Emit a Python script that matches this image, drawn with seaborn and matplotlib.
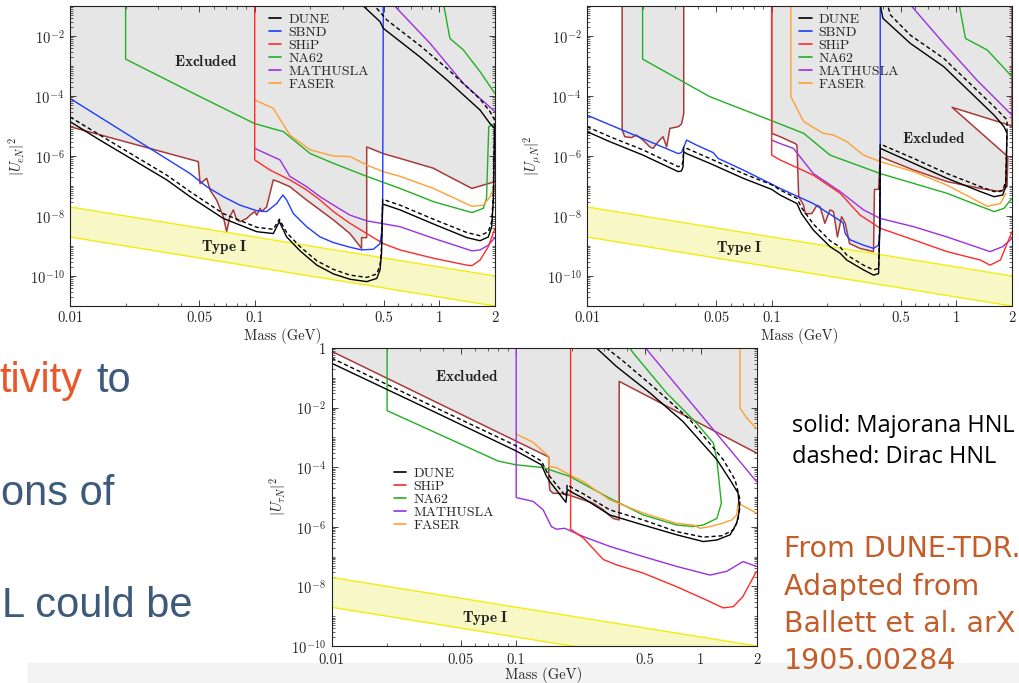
import numpy as np
import matplotlib
matplotlib.use("Agg")
import matplotlib.pyplot as plt
import seaborn as sns
from matplotlib.lines import Line2D
from matplotlib.patches import Rectangle
from matplotlib.ticker import FixedLocator, FixedFormatter, LogLocator, NullFormatter

# ---- data: (mass GeV, |U|^2) pairs ----
BAND_M = [0.01, 2.0]
BAND_HI = [2e-8, 1e-10]
BAND_LO = [2e-9, 1e-11]

XTICKS = [0.01, 0.05, 0.1, 0.5, 1, 2]
XTICK_LABELS = ["0.01", "0.05", "0.1", "0.5", "1", "2"]

# electron panel
e_excl = [(0.01, 9.5e-6), (0.0495, 6.5e-7), (0.0506, 1.2e-7), (0.055, 1.8e-7), (0.0573, 7.4e-8),
          (0.0622, 3.4e-8), (0.0676, 9.5e-9), (0.0705, 3.0e-9), (0.0734, 9.5e-9), (0.0766, 1.6e-8),
          (0.0799, 7.4e-9), (0.0833, 6.5e-9), (0.0905, 8.3e-9), (0.0944, 1.07e-8), (0.1, 1.4e-8),
          (0.1026, 1.07e-8), (0.107, 1.8e-8), (0.109, 1.4e-8), (0.116, 2.0e-8), (0.121, 5.7e-8),
          (0.126, 1.6e-7), (0.134, 1.4e-7), (0.155, 9.5e-8), (0.191, 3.4e-8), (0.267, 7.4e-9),
          (0.328, 2.6e-9), (0.379, 8.3e-10), (0.379, 1.9e-9), (0.404, 1.9e-9), (0.404, 2.0e-6),
          (0.497, 1.2e-6), (0.612, 8.3e-7), (0.929, 3.9e-7), (1.05, 2.6e-7), (1.50, 8.3e-8), (2.0, 1.4e-7)]
e_dune_maj = [(0.01, 1.4e-5), (0.0145, 3.4e-6), (0.022, 7.4e-7), (0.0334, 1.6e-7), (0.0447, 4.4e-8),
              (0.0676, 8.3e-9), (0.1026, 3.0e-9), (0.126, 2.6e-9), (0.136, 6.5e-9), (0.149, 2.0e-9),
              (0.176, 6.9e-10), (0.217, 2.3e-10), (0.267, 1.17e-10), (0.328, 7.8e-11), (0.404, 6.5e-11),
              (0.458, 8.3e-11), (0.477, 1.6e-10), (0.486, 5.7e-10), (0.493, 2.5e-8), (0.612, 1.6e-8),
              (0.929, 5.4e-9), (1.41, 1.9e-9), (1.66, 1.5e-9), (1.84, 2.0e-9), (1.92, 4.4e-9),
              (1.96, 3.4e-8), (1.98, 1.6e-6), (1.99, 8.3e-6), (1.88, 1.2e-5), (1.66, 3.4e-5),
              (1.10, 3.4e-4), (0.785, 2.0e-3), (0.497, 1.8e-2), (0.477, 3.0e-2), (0.37, 0.13)]
e_dune_dir = [(0.01, 2.0e-5), (0.0145, 5.0e-6), (0.022, 1.07e-6), (0.0334, 2.3e-7), (0.0447, 6.5e-8),
              (0.0676, 1.2e-8), (0.1026, 4.2e-9), (0.126, 3.6e-9), (0.136, 7.8e-9), (0.149, 2.8e-9),
              (0.176, 9.5e-10), (0.217, 3.2e-10), (0.267, 1.66e-10), (0.328, 1.07e-10), (0.404, 9.0e-11),
              (0.458, 1.17e-10), (0.477, 2.3e-10), (0.486, 8.3e-10), (0.493, 3.6e-8), (0.612, 2.3e-8),
              (0.929, 7.8e-9), (1.41, 2.8e-9), (1.66, 2.2e-9), (1.84, 3.0e-9), (1.92, 6.5e-9),
              (1.96, 5.7e-8), (1.98, 2.6e-6), (1.99, 1.6e-5), (1.88, 3.0e-5), (1.66, 7.9e-5),
              (1.10, 8.3e-4), (0.785, 4.8e-3), (0.52, 3.4e-2), (0.43, 0.13)]
e_sbnd = [(0.01, 0.2), (0.01, 8.3e-5), (0.0447, 2.6e-7), (0.055, 9.5e-8), (0.0676, 4.4e-8),
          (0.0833, 2.3e-8), (0.1026, 1.5e-8), (0.116, 1.4e-8), (0.1315, 2.6e-8), (0.142, 5.0e-8),
          (0.149, 3.4e-8), (0.162, 1.2e-8), (0.191, 4.4e-9), (0.226, 2.0e-9), (0.267, 1.3e-9),
          (0.328, 9.1e-10), (0.379, 7.4e-10), (0.439, 7.8e-10), (0.477, 1.2e-9), (0.489, 3.4e-9),
          (0.493, 3.4e-8), (0.497, 0.2)]
e_ship = [(0.1, 0.2), (0.1, 7.4e-7), (0.121, 3.4e-7), (0.155, 1.6e-7), (0.191, 7.4e-8), (0.226, 3.4e-8),
          (0.267, 1.4e-8), (0.328, 5.7e-9), (0.404, 2.6e-9), (0.497, 1.2e-9), (0.612, 7.4e-10),
          (0.929, 3.9e-10), (1.41, 2.3e-10), (1.50, 2.2e-10), (1.66, 3.4e-10), (1.84, 9.5e-10), (2.0, 3.9e-9)]
e_na62 = [(0.02, 0.2), (0.02, 1.7e-3), (0.0506, 9.5e-5), (0.1, 1.2e-5), (0.143, 6.5e-6), (0.2, 1.2e-6),
          (0.267, 5.7e-7), (0.404, 2.1e-7), (0.612, 8.3e-8), (0.929, 3.0e-8), (1.50, 1.3e-8),
          (1.73, 1.8e-8), (1.80, 3.9e-8), (1.85, 9.5e-6), (2.0, 1.2e-5)]
e_na62_up = [(1.05, 0.13), (1.14, 8.3e-3), (1.35, 3.4e-3), (1.66, 6.5e-4), (2.0, 1.2e-4)]
e_math = [(0.1, 1.8e-6), (0.137, 7.4e-7), (0.155, 2.1e-7), (0.191, 9.5e-8), (0.226, 4.4e-8),
          (0.267, 2.3e-8), (0.328, 1.07e-8), (0.404, 6.9e-9), (0.612, 4.4e-9), (0.929, 1.8e-9),
          (1.50, 6.9e-10), (1.66, 7.4e-10), (1.84, 1.07e-9), (2.0, 1.9e-9)]
e_math_up = [(0.55, 0.13), (0.89, 5.7e-3), (1.35, 2.6e-4), (2.0, 3.0e-5)]
e_faser = [(0.1, 7.4e-5), (0.126, 3.9e-5), (0.155, 5.0e-6), (0.2, 1.6e-6), (0.267, 1.0e-6),
           (0.328, 9.6e-7), (0.404, 5.0e-7), (0.497, 3.0e-7), (0.612, 2.1e-7), (0.929, 8.3e-8),
           (1.50, 2.1e-8), (1.73, 2.3e-8), (1.88, 4.4e-8), (2.0, 1.07e-7)]

# muon panel
mu_excl_a = [(0.0155, 0.2), (0.0155, 7.4e-6), (0.016, 4.4e-6), (0.0174, 4.1e-6), (0.0185, 5.0e-6),
             (0.0201, 3.4e-6), (0.0219, 2.0e-6), (0.0228, 1.8e-6), (0.0243, 3.0e-6), (0.0258, 4.4e-6),
             (0.027, 2.0e-6), (0.0281, 8.3e-6), (0.0312, 9.5e-6), (0.0325, 1.17e-5), (0.0334, 2.6e-5),
             (0.0334, 0.2)]
mu_excl_b = [(0.1, 0.2), (0.1, 5.7e-6), (0.111, 4.4e-6), (0.134, 2.6e-6), (0.137, 2.3e-6), (0.14, 4.4e-8),
             (0.1486, 2.3e-8), (0.152, 1.2e-8), (0.165, 1.2e-8), (0.176, 2.3e-8), (0.183, 2.0e-8),
             (0.194, 5.7e-9), (0.207, 1.6e-8), (0.216, 1.4e-8), (0.227, 2.0e-9), (0.239, 9.5e-9),
             (0.25, 5.7e-9), (0.264, 1.2e-9), (0.301, 8.3e-10), (0.356, 6.5e-10), (0.36, 7.7e-8),
             (0.379, 7.7e-8), (0.387, 9.5e-7), (0.587, 3.4e-7), (0.89, 1.4e-7), (1.35, 8.3e-8),
             (1.73, 6.5e-8), (1.88, 9.5e-8), (1.90, 9.5e-7), (0.947, 4.2e-5), (2.0, 1.0e-5), (2.0, 0.2)]
mu_dune_maj = [(0.01, 6.5e-6), (0.0133, 3.0e-6), (0.0201, 1.07e-6), (0.0312, 3.0e-7), (0.0325, 3.2e-7),
               (0.0331, 4.4e-7), (0.0334, 1.4e-6), (0.0346, 1.2e-6), (0.0462, 5.7e-7), (0.0702, 1.8e-7),
               (0.1, 7.7e-8), (0.111, 5.0e-8), (0.137, 2.6e-8), (0.145, 1.2e-8), (0.168, 3.4e-9),
               (0.207, 9.5e-10), (0.235, 5.7e-10), (0.255, 3.4e-10), (0.314, 1.6e-10), (0.356, 1.07e-10),
               (0.379, 1.2e-10), (0.384, 2.6e-9), (0.387, 1.8e-6), (0.587, 5.7e-7), (0.89, 1.8e-7),
               (1.35, 6.5e-8), (1.60, 4.4e-8), (1.78, 5.0e-8), (1.85, 9.5e-8), (1.88, 5.7e-6),
               (1.81, 9.5e-6), (1.60, 2.3e-5), (0.854, 9.5e-4), (0.5625, 5.7e-3), (0.40, 3.9e-2), (0.385, 0.13)]
mu_dune_dir = [(0.01, 9.5e-6), (0.0133, 4.4e-6), (0.0201, 1.6e-6), (0.0312, 4.4e-7), (0.0325, 4.8e-7),
               (0.0331, 6.5e-7), (0.0334, 2.0e-6), (0.0346, 1.8e-6), (0.0462, 8.3e-7), (0.0702, 2.6e-7),
               (0.1, 1.1e-7), (0.111, 7.4e-8), (0.137, 3.9e-8), (0.145, 1.9e-8), (0.168, 5.4e-9),
               (0.207, 1.5e-9), (0.235, 9.1e-10), (0.255, 5.0e-10), (0.314, 2.3e-10), (0.356, 1.6e-10),
               (0.379, 1.8e-10), (0.384, 3.4e-9), (0.387, 2.5e-6), (0.587, 8.3e-7), (0.89, 2.6e-7),
               (1.35, 9.5e-8), (1.60, 6.5e-8), (1.78, 7.0e-8), (1.85, 1.4e-7), (1.88, 7.4e-6),
               (1.88, 1.6e-5), (1.60, 4.4e-5), (0.854, 1.8e-3), (0.5625, 1.07e-2), (0.44, 5.0e-2), (0.42, 0.13)]
mu_sbnd = [(0.01, 0.2), (0.01, 2.3e-5), (0.0312, 1.2e-6), (0.0325, 1.3e-6), (0.0346, 3.4e-6),
           (0.0392, 2.3e-6), (0.0482, 1.3e-6), (0.0513, 8.3e-7), (0.0702, 3.4e-7), (0.1065, 9.5e-8),
           (0.111, 8.3e-8), (0.168, 2.6e-8), (0.239, 6.5e-9), (0.244, 5.7e-9), (0.25, 2.6e-9),
           (0.266, 1.6e-9), (0.314, 1.07e-9), (0.356, 8.3e-10), (0.379, 1.07e-9), (0.387, 4.4e-9), (0.387, 0.2)]
mu_ship = [(0.1, 0.2), (0.1, 1.07e-6), (0.111, 7.4e-7), (0.168, 2.3e-7), (0.235, 5.7e-8), (0.301, 1.07e-8),
           (0.387, 3.9e-9), (0.587, 1.6e-9), (0.89, 6.5e-10), (1.35, 3.4e-10), (1.52, 2.3e-10),
           (1.73, 3.4e-10), (2.0, 3.0e-9)]
mu_na62 = [(0.02, 0.2), (0.02, 1.7e-3), (0.0462, 9.5e-5), (0.1, 1.5e-5), (0.149, 5.7e-6), (0.207, 1.07e-6),
           (0.387, 2.6e-7), (0.89, 5.7e-8), (1.60, 1.4e-8), (1.81, 1.8e-8), (2.0, 3.9e-8)]
mu_na62_up = [(1.03, 0.13), (1.12, 8.3e-3), (1.47, 3.4e-3), (2.0, 4.4e-4)]
mu_math = [(0.1, 3.4e-6), (0.111, 2.6e-6), (0.131, 1.8e-6), (0.168, 2.6e-7), (0.235, 6.5e-8),
           (0.314, 1.6e-8), (0.387, 8.3e-9), (0.587, 4.4e-9), (0.89, 2.0e-9), (1.52, 6.5e-10),
           (1.78, 9.5e-10), (2.0, 1.8e-9)]
mu_math_up = [(0.55, 0.13), (0.854, 5.7e-3), (1.29, 3.4e-4), (2.0, 2.3e-5)]
mu_faser = [(0.127, 0.2), (0.127, 9.5e-5), (0.149, 1.4e-5), (0.19, 5.7e-6), (0.216, 5.0e-6),
            (0.255, 3.0e-6), (0.314, 1.07e-6), (0.387, 6.5e-7), (0.587, 3.0e-7), (0.89, 1.07e-7),
            (1.47, 2.1e-8), (1.73, 2.6e-8), (1.85, 5.7e-8)]

# tau panel
t_excl = [(0.01, 0.78), (0.15, 2.2e-4), (0.15, 4.3e-5), (0.152, 1.7e-5), (0.158, 1.35e-5), (0.176, 1.3e-5),
          (0.191, 1.18e-5), (0.231, 8.0e-6), (0.261, 6.2e-6), (0.296, 3.7e-6), (0.335, 1.9e-6),
          (0.361, 1.7e-6), (0.361, 0.076), (2.0, 3.0e-4)]
t_dune_maj = [(0.01, 0.31), (0.0371, 6.6e-3), (0.1, 3.5e-4), (0.137, 1.2e-4), (0.146, 4.9e-5),
              (0.152, 3.3e-5), (0.186, 6.6e-6), (0.189, 1.8e-5), (0.204, 1.35e-5), (0.231, 9.1e-6),
              (0.321, 2.5e-6), (0.487, 1.15e-6), (0.738, 5.4e-7), (1.03, 3.2e-7), (1.22, 3.6e-7),
              (1.44, 5.4e-7), (1.56, 1.3e-6), (1.62, 3.7e-6), (1.59, 1.35e-5), (1.44, 3.7e-5),
              (1.22, 1.8e-4), (0.80, 3.4e-3), (0.53, 3.1e-2), (0.349, 0.24), (0.272, 1.0), (0.26, 1.3)]
t_dune_dir = [(0.01, 0.46), (0.0371, 9.6e-3), (0.1, 5.2e-4), (0.137, 1.6e-4), (0.146, 7.2e-5),
              (0.152, 4.9e-5), (0.186, 1.04e-5), (0.189, 2.6e-5), (0.204, 1.9e-5), (0.231, 1.28e-5),
              (0.321, 3.7e-6), (0.487, 1.7e-6), (0.738, 6.9e-7), (1.03, 4.5e-7), (1.30, 5.0e-7),
              (1.50, 7.9e-7), (1.59, 1.7e-6), (1.63, 8.0e-6), (1.53, 3.8e-5), (1.32, 1.8e-4),
              (0.872, 3.9e-3), (0.576, 4.0e-2), (0.380, 0.36), (0.308, 1.0), (0.29, 1.3)]
t_ship = [(0.197, 2.0), (0.197, 8.3e-7), (0.231, 4.2e-7), (0.296, 8.0e-8), (0.349, 5.3e-8), (0.487, 2.8e-8),
          (0.738, 9.8e-9), (1.07, 3.5e-9), (1.32, 1.9e-9), (1.50, 2.1e-9), (1.69, 4.6e-9), (2.0, 3.2e-8)]
t_na62 = [(0.02, 2.0), (0.02, 7.9e-3), (0.08, 1.6e-4), (0.1, 1.2e-4), (0.14, 9.7e-5), (0.195, 4.9e-5),
          (0.321, 9.1e-6), (0.487, 2.5e-6), (0.738, 1.15e-6), (0.909, 1.02e-6), (1.03, 1.15e-6),
          (1.22, 1.9e-6), (1.29, 6.2e-6), (1.22, 1.8e-4), (1.17, 6.4e-4), (0.948, 3.0e-3),
          (0.652, 3.1e-2), (0.43, 0.68), (0.40, 1.3)]
t_math = [(0.1, 2.0), (0.1, 9.6e-6), (0.1236, 7.1e-6), (0.14, 3.7e-6), (0.155, 1.02e-6), (0.165, 8.3e-7),
          (0.183, 8.9e-7), (0.231, 4.7e-7), (0.321, 2.2e-7), (0.487, 1.0e-7), (0.738, 4.7e-8),
          (1.12, 2.4e-8), (1.38, 3.2e-8), (1.69, 6.8e-8), (2.0, 4.7e-8)]
t_math_up = [(0.484, 1.3), (2.0, 3.3e-5)]
t_faser = [(0.1, 1.3e-3), (0.1236, 6.8e-4), (0.149, 2.4e-4), (0.15, 1.05e-4), (0.165, 9.7e-5),
           (0.195, 5.5e-5), (0.231, 3.3e-5), (0.321, 8.0e-6), (0.487, 2.9e-6), (0.738, 1.3e-6),
           (0.909, 1.15e-6), (0.988, 8.9e-7), (1.12, 1.02e-6), (1.30, 1.3e-6), (1.47, 1.7e-6),
           (1.56, 2.5e-6), (1.59, 6.2e-6), (2.0, 2.9e-6)]
t_faser_up = [(1.63, 1.3), (1.63, 9.6e-3), (1.77, 4.5e-3), (2.0, 2.0e-3)]

COL = {"DUNE": "black", "SBND": "#1f3cff", "SHiP": "#ff2a2a", "NA62": "#22b022",
       "MATHUSLA": "#9b30e0", "FASER": "#ffa032"}
BROWN = "#a83a3a"

# ---- style ----
sns.set_theme(style="ticks")
plt.rcParams.update({
    "font.family": "serif",
    "font.serif": ["cmr10"],
    "mathtext.fontset": "cm",
    "axes.unicode_minus": False,
    "axes.formatter.use_mathtext": True,
    "axes.edgecolor": "#222222",
    "axes.linewidth": 0.8,
})

fig = plt.figure(figsize=(10.2, 6.83), dpi=100)
fig.patch.set_facecolor("white")


def curve(ax, pts, color, ls="-", lw=1.0):
    m, u = zip(*pts)
    sns.lineplot(x=list(m), y=list(u), ax=ax, color=color, linewidth=lw, linestyle=ls,
                 sort=False, estimator=None, legend=False)


def excluded(ax, pts, top=None):
    m, u = zip(*pts)
    fm, fu = list(m), list(u)
    if top is not None:
        fm += [2.0, 0.01]
        fu += [top, top]
    ax.fill(fm, fu, color="#e6e6e6", lw=0, zorder=0.5)
    curve(ax, pts, BROWN, lw=1.1)


def style(ax, ylim, yexps, ylabel, xpad=4, xlabelpad=2):
    ax.set_xscale("log")
    ax.set_yscale("log")
    ax.set_xlim(0.01, 2)
    ax.set_ylim(*ylim)
    ax.xaxis.set_major_locator(FixedLocator(XTICKS))
    ax.xaxis.set_major_formatter(FixedFormatter(XTICK_LABELS))
    ax.xaxis.set_minor_locator(LogLocator(base=10, subs=np.arange(2, 10), numticks=60))
    ax.xaxis.set_minor_formatter(NullFormatter())
    ax.yaxis.set_major_locator(FixedLocator([10.0 ** e for e in yexps]))
    ax.yaxis.set_major_formatter(FixedFormatter(
        [r"$1$" if e == 0 else r"$10^{%d}$" % e for e in yexps]))
    ax.yaxis.set_minor_locator(LogLocator(base=10, subs=np.arange(1, 10), numticks=200))
    ax.yaxis.set_minor_formatter(NullFormatter())
    ax.tick_params(which="both", direction="in", top=True, right=True, labelsize=10.5, pad=4)
    ax.tick_params(axis="x", which="major", pad=xpad)
    ax.tick_params(which="major", length=4, width=0.6)
    ax.tick_params(which="minor", length=2, width=0.5)
    ax.set_xlabel("Mass (GeV)", fontsize=10.5, labelpad=xlabelpad)
    ax.set_ylabel(ylabel, fontsize=10.5, labelpad=2)
    for s in ax.spines.values():
        s.set_visible(True)


def band(ax):
    ax.fill_between(BAND_M, BAND_LO, BAND_HI, color="#f8f8c6", lw=0, zorder=0.6)
    curve(ax, list(zip(BAND_M, BAND_HI)), "#f0ee10")
    curve(ax, list(zip(BAND_M, BAND_LO)), "#f0ee10")


def legend(ax, names, anchor):
    handles = [Line2D([], [], color=COL[n], lw=1.2) for n in names]
    ax.legend(handles, names, loc="upper left", bbox_to_anchor=anchor, frameon=False,
              fontsize=10, handlelength=0.9, handletextpad=0.5, labelspacing=0.02, borderpad=0,
              borderaxespad=0)


def bold(ax, x, y, s):
    ax.text(x, y, r"$\mathbf{%s}$" % s.replace(" ", r"\ "), ha="center", va="center",
            fontsize=11, color="#222222", zorder=5)


# ---- top left: electron ----
ax1 = fig.add_axes([70 / 1020, 1 - 306 / 683, 425 / 1020, 300 / 683])
style(ax1, (1e-11, 0.1), [-10, -8, -6, -4, -2], r"$|U_{eN}|^2$")
excluded(ax1, e_excl, top=1.0)
band(ax1)
for pts, c in [(e_na62, "NA62"), (e_na62_up, "NA62"), (e_faser, "FASER"), (e_math, "MATHUSLA"),
               (e_math_up, "MATHUSLA"), (e_ship, "SHiP"), (e_sbnd, "SBND"), (e_dune_maj, "DUNE")]:
    curve(ax1, pts, COL[c])
curve(ax1, e_dune_dir, "black", ls=(0, (3, 2)))
legend(ax1, ["DUNE", "SBND", "SHiP", "NA62", "MATHUSLA", "FASER"], (0.468, 0.975))
bold(ax1, 0.054, 1.4e-3, "Excluded")
bold(ax1, 0.068, 9e-10, "Type I")

# ---- top right: muon ----
ax2 = fig.add_axes([587 / 1020, 1 - 306 / 683, 425 / 1020, 300 / 683])
style(ax2, (1e-11, 0.1), [-10, -8, -6, -4, -2], r"$|U_{\mu N}|^2$")
ax2.fill(*zip(*mu_excl_a), color="#e6e6e6", lw=0, zorder=0.5)
curve(ax2, mu_excl_a, BROWN, lw=1.1)
excluded(ax2, mu_excl_b)
band(ax2)
for pts, c in [(mu_na62, "NA62"), (mu_na62_up, "NA62"), (mu_faser, "FASER"), (mu_math, "MATHUSLA"),
               (mu_math_up, "MATHUSLA"), (mu_ship, "SHiP"), (mu_sbnd, "SBND"), (mu_dune_maj, "DUNE")]:
    curve(ax2, pts, COL[c])
curve(ax2, mu_dune_dir, "black", ls=(0, (3, 2)))
legend(ax2, ["DUNE", "SBND", "SHiP", "NA62", "MATHUSLA", "FASER"], (0.499, 0.975))
bold(ax2, 0.75, 3.9e-6, "Excluded")
bold(ax2, 0.067, 8.3e-10, "Type I")

# ---- bottom: tau ----
ax3 = fig.add_axes([331.5 / 1020, 1 - 646 / 683, 425 / 1020, 298 / 683])
style(ax3, (1e-10, 1.0), [-10, -8, -6, -4, -2, 0], r"$|U_{\tau N}|^2$", xpad=5, xlabelpad=0)
excluded(ax3, t_excl, top=10.0)
band(ax3)
for pts, c in [(t_na62, "NA62"), (t_faser, "FASER"), (t_faser_up, "FASER"), (t_math, "MATHUSLA"),
               (t_math_up, "MATHUSLA"), (t_ship, "SHiP"), (t_dune_maj, "DUNE")]:
    curve(ax3, pts, COL[c])
curve(ax3, t_dune_dir, "black", ls=(0, (3, 2)))
legend(ax3, ["DUNE", "SHiP", "NA62", "MATHUSLA", "FASER"], (0.147, 0.6))
bold(ax3, 0.054, 0.11, "Excluded")
bold(ax3, 0.0676, 8.5e-10, "Type I")

# ---- slide decorations ----
fig.add_artist(Rectangle((0.027, 0), 0.973, 20 / 683, transform=fig.transFigure,
                         color="#f3f3f3", zorder=-1))

SLATE = "#3d5a7a"
sans = ["Liberation Sans", "DejaVu Sans"]
fig.text(82 / 1020, 1 - 392 / 683, "tivity", color="#e8562a", fontsize=30, family=sans,
         ha="right", va="baseline")
fig.text(96 / 1020, 1 - 392 / 683, "to", color=SLATE, fontsize=30, family=sans, va="baseline")
fig.text(1 / 1020, 1 - 505 / 683, "ons of", color=SLATE, fontsize=30, family=sans,
         va="baseline")
fig.text(2 / 1020, 1 - 617 / 683, "L could be", color=SLATE, fontsize=30, family=sans,
         va="baseline")

note = ["Open Sans", "DejaVu Sans"]
fig.text(792 / 1020, 1 - 432 / 683, "solid: Majorana HNL", fontsize=17, family=note,
         color="black", va="baseline")
fig.text(792 / 1020, 1 - 463 / 683, "dashed: Dirac HNL", fontsize=17, family=note,
         color="black", va="baseline")

ORANGE = "#c25e2c"
for txt, yb in [("From DUNE-TDR.", 557), ("Adapted from", 595), ("Ballett et al. arX", 632),
                ("1905.00284", 669)]:
    fig.text(784 / 1020, 1 - yb / 683, txt, fontsize=20.5, family=["DejaVu Sans"],
             color=ORANGE, va="baseline")

fig.savefig("out.png", dpi=100)
